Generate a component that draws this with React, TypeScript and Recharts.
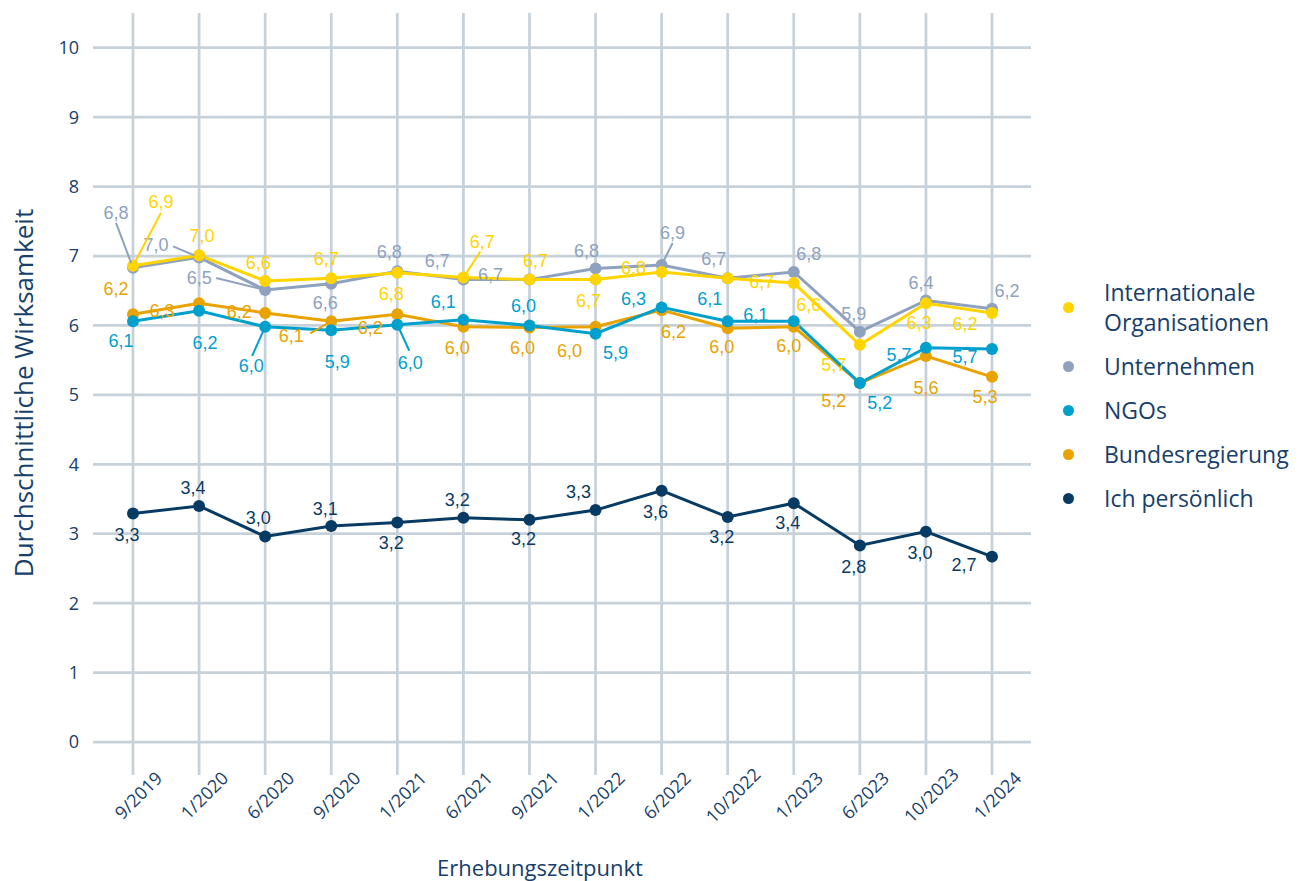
import { CartesianGrid, LabelList, Line, LineChart, XAxis, YAxis } from "recharts";

const periods = [
  "9/2019", "1/2020", "6/2020", "9/2020", "1/2021", "6/2021", "9/2021",
  "1/2022", "6/2022", "10/2022", "1/2023", "6/2023", "10/2023", "1/2024",
];

const internationale = [6.86, 7.01, 6.64, 6.68, 6.76, 6.69, 6.66, 6.66, 6.77, 6.68, 6.61, 5.72, 6.32, 6.18];
const unternehmen = [6.83, 6.98, 6.51, 6.6, 6.78, 6.66, 6.66, 6.82, 6.87, 6.68, 6.77, 5.91, 6.36, 6.24];
const ngos = [6.06, 6.21, 5.98, 5.93, 6.01, 6.08, 6.0, 5.88, 6.26, 6.06, 6.06, 5.17, 5.68, 5.66];
const bundesregierung = [6.16, 6.32, 6.18, 6.06, 6.16, 5.98, 5.97, 5.98, 6.22, 5.96, 5.98, 5.17, 5.56, 5.26];
const ichPersoenlich = [3.29, 3.4, 2.96, 3.11, 3.16, 3.23, 3.2, 3.34, 3.62, 3.24, 3.44, 2.83, 3.03, 2.67];

const yTicks = [0, 1, 2, 3, 4, 5, 6, 7, 8, 9, 10];

const W = 1299;
const H = 881;
const GRID = "#C7D1DA";
const TEXT = "#17406B";
const SANS = "'Open Sans', 'Noto Sans', sans-serif";
const LABEL_FONT = "'Liberation Sans', Arial, sans-serif";

type Offset = [number, number];

interface Series {
  key: string;
  name: string;
  color: string;
  // label placement, like Excel's hand-moved data labels (centre offset from point)
  labelAt: Offset[];
  leaders: Record<number, Offset>;
}

const SERIES: Record<string, Series> = {
  internationale: {
    key: "internationale",
    name: "Internationale Organisationen",
    color: "#FFD400",
    labelAt: [[28, -64], [3, -19], [-7, -18], [-5, -19], [-6, 21], [19, -36], [6, -19], [-7, 21], [-28, -4], [34, 4], [15, 22], [-26, 20], [-7, 20], [-27, 11]],
    leaders: { 0: [28, -53], 5: [17, -26] },
  },
  unternehmen: {
    key: "unternehmen",
    name: "Unternehmen",
    color: "#8EA2BF",
    labelAt: [[-17, -55], [-43, -12], [-66, -12], [-6, 19], [-8, -19], [-26, -19], [-39, -5], [-9, -17], [11, -32], [-14, -19], [15, -18], [-6, -18], [-5, -17], [15, -18]],
    leaders: { 0: [-17, -45], 1: [-26, -11], 2: [-49, -12], 8: [11, -22] },
  },
  ngos: {
    key: "ngos",
    name: "NGOs",
    color: "#00A0CD",
    labelAt: [[-12, 20], [6, 32], [-14, 39], [6, 32], [13, 38], [-20, -18], [-6, -19], [20, 19], [-28, -8], [-18, -22], [-38, -6], [20, 20], [-27, 7], [-27, 8]],
    leaders: { 2: [-13, 29], 4: [12, 26] },
  },
  bundesregierung: {
    key: "bundesregierung",
    name: "Bundesregierung",
    color: "#E8A300",
    labelAt: [[-17, -25], [-37, 8], [-26, -1], [-40, 15], [-27, 14], [-6, 21], [-7, 20], [-26, 24], [12, 22], [-6, 19], [-5, 19], [-26, 18], [0, 32], [-7, 20]],
    leaders: { 3: [-21, 12] },
  },
  ichPersoenlich: {
    key: "ichPersoenlich",
    name: "Ich persönlich",
    color: "#083B63",
    labelAt: [[-6, 21], [-6, -18], [-7, -18], [-6, -17], [-6, 20], [-6, -18], [-6, 19], [-17, -18], [-6, 21], [-6, 20], [-6, 20], [-6, 21], [-6, 21], [-28, 8]],
    leaders: {},
  },
};

const legendOrder = ["internationale", "unternehmen", "ngos", "bundesregierung", "ichPersoenlich"];
const drawOrder = ["bundesregierung", "ngos", "unternehmen", "internationale", "ichPersoenlich"];

const rows = periods.map((period, i) => ({
  period,
  internationale: internationale[i],
  unternehmen: unternehmen[i],
  ngos: ngos[i],
  bundesregierung: bundesregierung[i],
  ichPersoenlich: ichPersoenlich[i],
}));

const fmt = (v: number) => v.toFixed(1).replace(".", ",");

function makeLabel(s: Series) {
  return (props: any) => {
    const { x, y, value, index } = props;
    if (x == null || y == null || index == null) return null;
    const [dx, dy] = s.labelAt[index] ?? [-6, -18];
    const leader = s.leaders[index];
    let line = null;
    if (leader) {
      const len = Math.hypot(leader[0], leader[1]) || 1;
      const sx = x + (leader[0] / len) * 5;
      const sy = y + (leader[1] / len) * 5;
      line = <line x1={sx} y1={sy} x2={x + leader[0]} y2={y + leader[1]} stroke={s.color} strokeWidth={2} />;
    }
    return (
      <g>
        {line}
        <text
          x={x + dx}
          y={y + dy}
          textAnchor="middle"
          dominantBaseline="central"
          fontFamily={LABEL_FONT}
          fontSize={18}
          fill={s.color}
        >
          {fmt(Number(value))}
        </text>
      </g>
    );
  };
}

function XTick({ x, y, payload }: any) {
  const cx = x + 5;
  const cy = y + 18;
  return (
    <text
      x={cx}
      y={cy}
      transform={`rotate(-45, ${cx}, ${cy})`}
      textAnchor="middle"
      dominantBaseline="central"
      fontFamily={SANS}
      fontSize={18}
      fill={TEXT}
    >
      {payload.value}
    </text>
  );
}

const xTitle = () => (
  <text x={540} y={876} textAnchor="middle" fontFamily={SANS} fontSize={22} fill={TEXT}>
    Erhebungszeitpunkt
  </text>
);

const yTitle = () => (
  <text
    x={23}
    y={393}
    transform="rotate(-90, 23, 393)"
    textAnchor="middle"
    dominantBaseline="central"
    fontFamily={SANS}
    fontSize={26}
    fill={TEXT}
  >
    Durchschnittliche Wirksamkeit
  </text>
);

function ChartLegend() {
  return (
    <div style={{ position: "absolute", left: 1063, top: 277, fontFamily: SANS, fontSize: 23, color: TEXT }}>
      {legendOrder.map((k) => {
        const s = SERIES[k];
        return (
          <div key={k} style={{ display: "flex", alignItems: "center", marginBottom: 14 }}>
            <div style={{ width: 11, height: 11, borderRadius: "50%", background: s.color, flex: "none" }} />
            <div style={{ marginLeft: 30, width: 180, lineHeight: "30px" }}>{s.name}</div>
          </div>
        );
      })}
    </div>
  );
}

export default function App() {
  return (
    <div style={{ width: W, height: H, position: "relative", overflow: "hidden", background: "#fff" }}>
      <style>{"body { margin: 0; }"}</style>
      <LineChart width={W} height={H} data={rows} margin={{ top: 13, right: 268, bottom: 0, left: 0 }}>
        <CartesianGrid stroke={GRID} strokeWidth={2.75} syncWithTicks />
        <XAxis
          dataKey="period"
          padding={{ left: 40, right: 39 }}
          interval={0}
          height={139}
          axisLine={false}
          tickSize={33}
          tickLine={{ stroke: GRID, strokeWidth: 2.75 }}
          tick={XTick}
          label={xTitle}
        />
        <YAxis
          domain={[0, 10.5]}
          ticks={yTicks}
          width={93}
          axisLine={false}
          tickLine={false}
          tickSize={0}
          tickMargin={14}
          tick={{ fontFamily: SANS, fontSize: 18, fill: TEXT }}
          label={yTitle}
        />
        {drawOrder.map((k) => {
          const s = SERIES[k];
          return (
            <Line
              key={k}
              dataKey={k}
              name={s.name}
              stroke={s.color}
              strokeWidth={3}
              dot={{ r: 6, fill: s.color, stroke: s.color, strokeWidth: 0 }}
              activeDot={false}
              isAnimationActive={false}
            >
              <LabelList dataKey={k} content={makeLabel(s)} />
            </Line>
          );
        })}
      </LineChart>
      <ChartLegend />
    </div>
  );
}
